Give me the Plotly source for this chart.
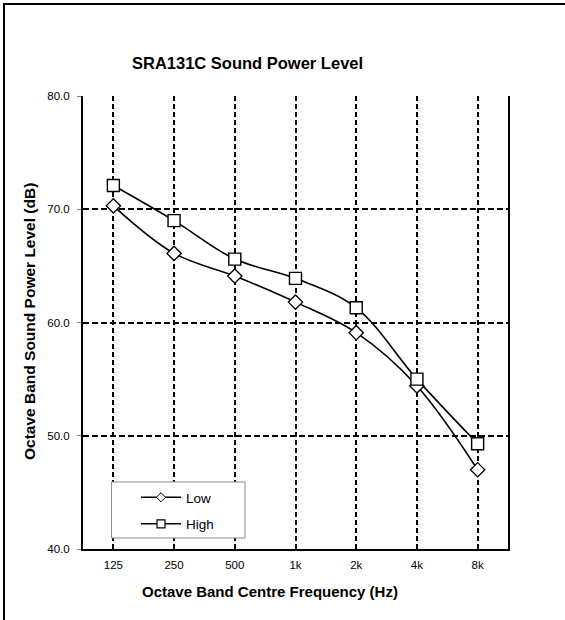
import plotly.graph_objects as go

categories = ["125", "250", "500", "1k", "2k", "4k", "8k"]
low_values = [70.3, 66.1, 64.1, 61.8, 59.1, 54.4, 47.0]
high_values = [72.1, 69.0, 65.6, 63.9, 61.3, 55.0, 49.3]
y_ticks = [40, 50, 60, 70, 80]
series_names = ["Low", "High"]

FONT = "Arial, Liberation Sans, sans-serif"

W, H = 565, 620
L, R, T, B = 83, 57, 96, 71
PW, PH = W - L - R, H - T - B


def px_x(x):
    return (x - L) / PW


def px_y(y):
    return (H - B - y) / PH


fig = go.Figure()
fig.add_trace(go.Scatter(
    x=categories, y=low_values, name=series_names[0], mode="lines+markers",
    showlegend=False,
    line=dict(color="black", width=1.6, shape="spline", smoothing=1.0),
    marker=dict(symbol="diamond", size=11, color="white",
                line=dict(color="black", width=1.3)),
))
fig.add_trace(go.Scatter(
    x=categories, y=high_values, name=series_names[1], mode="lines+markers",
    showlegend=False,
    line=dict(color="black", width=1.6, shape="spline", smoothing=1.0),
    marker=dict(symbol="square", size=12, color="white",
                line=dict(color="black", width=1.4)),
))
fig.add_trace(go.Scatter(
    x=[None], y=[None], name=series_names[0], mode="lines+markers",
    legendgroup="a",
    line=dict(color="black", width=1.5),
    marker=dict(symbol="diamond", size=7, color="white",
                line=dict(color="black", width=1)),
))
fig.add_trace(go.Scatter(
    x=[None], y=[None], name=series_names[1], mode="lines+markers",
    legendgroup="b",
    line=dict(color="black", width=1.5),
    marker=dict(symbol="square", size=8, color="white",
                line=dict(color="black", width=1.2)),
))

border_path = "M {:.5f},{:.5f} L {:.5f},{:.5f} L {:.5f},{:.5f}".format(
    px_x(4), px_y(H + 2), px_x(4), px_y(4), px_x(W + 2), px_y(4))

fig.update_layout(
    width=W, height=H,
    margin=dict(l=L, r=R, t=T, b=B, autoexpand=False),
    paper_bgcolor="white", plot_bgcolor="white",
    font=dict(family=FONT, color="black", size=11.5),
    showlegend=True,
    legend=dict(
        x=px_x(136), y=px_y(482),
        xanchor="left", yanchor="top",
        borderwidth=0, bgcolor="rgba(0,0,0,0)",
        font=dict(family=FONT, size=13.5),
        itemwidth=40, tracegroupgap=6,
    ),
    xaxis=dict(
        type="category", categoryorder="array", categoryarray=categories,
        range=[-0.5, 6.5], automargin=False,
        showgrid=True, gridcolor="black", gridwidth=1.5, griddash="5px,3px",
        showline=True, linecolor="black", linewidth=2, mirror=False,
        ticks="", tickfont=dict(family=FONT, size=11.5), ticklabelstandoff=4,
        zeroline=False,
    ),
    xaxis2=dict(
        overlaying="x", range=[-0.5, 6.5],
        tickvals=[i - 0.5 for i in range(len(categories) + 1)],
        ticks="outside", ticklen=4, tickcolor="#808080", tickwidth=1,
        showticklabels=False, showgrid=False, showline=False, zeroline=False,
    ),
    yaxis=dict(
        range=[40, 80], tickvals=y_ticks, tickformat=".1f", automargin=False,
        showgrid=True, gridcolor="black", gridwidth=1.5, griddash="6px,3px",
        showline=True, linecolor="black", linewidth=2, mirror=True,
        ticks="outside", ticklen=4, tickcolor="#808080",
        tickfont=dict(family=FONT, size=11.5), ticklabelstandoff=5,
        zeroline=False,
    ),
    annotations=[
        dict(text="<b>SRA131C Sound Power Level</b>", xref="paper", yref="paper",
             x=px_x(247.5), y=px_y(63),
             xanchor="center", yanchor="middle", showarrow=False,
             font=dict(family=FONT, size=16.5)),
        dict(text="<b>Octave Band Centre Frequency (Hz)</b>", xref="paper", yref="paper",
             x=px_x(270), y=px_y(591),
             xanchor="center", yanchor="middle", showarrow=False,
             font=dict(family=FONT, size=15)),
        dict(text="<b>Octave Band Sound Power Level (dB)</b>", xref="paper", yref="paper",
             x=px_x(29), y=px_y(322), textangle=-90,
             xanchor="center", yanchor="middle", showarrow=False,
             font=dict(family=FONT, size=15.5)),
    ],
    shapes=[
        dict(type="rect", xref="paper", yref="paper", layer="above",
             x0=px_x(111.5), x1=px_x(245), y0=px_y(482), y1=px_y(538),
             fillcolor="white", line=dict(color="#8c8c8c", width=1)),
        # chart-area border: left edge and top edge
        dict(type="path", xref="paper", yref="paper", path=border_path,
             fillcolor="rgba(0,0,0,0)", line=dict(color="black", width=2)),
    ],
)

fig.write_html(
    "out.html",
    config={"displayModeBar": False},
    post_script=(
        "document.body.style.margin='0';"
        "document.body.style.overflow='hidden';"
        "document.documentElement.style.overflow='hidden';"
    ),
)
